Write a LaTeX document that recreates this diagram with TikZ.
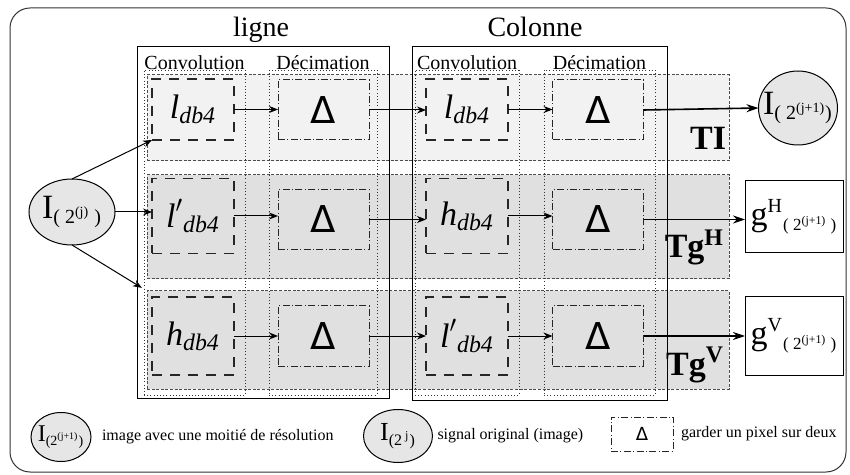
\documentclass[tikz,border=0pt]{standalone}
\usepackage{amsmath}
\usepackage{fontspec}
\setmainfont{Liberation Serif}
\newfontfamily\deltafont{DejaVu Sans}
\usetikzlibrary{arrows.meta, positioning, shapes.geometric}
\definecolor{frameDark}{HTML}{333333}
\definecolor{bandLight}{HTML}{F2F2F2}
\definecolor{bandDark}{HTML}{E0E0E0}
\definecolor{ellFill}{HTML}{E6E6E6}
\newcommand{\idx}[2]{\text{\fontsize{#1}{#1}\selectfont #2}}

\begin{document}
\begin{tikzpicture}[x=0.5pt, y=-0.5pt,
    every node/.style={inner sep=0pt, outer sep=0pt},
    band/.style={draw=black!70, dash pattern=on 1.5pt off 0.8pt, line width=0.5pt, minimum width=291pt},
    grp/.style={draw, line width=0.5pt},
    colbox/.style={draw=black!80, dash pattern=on 0.4pt off 1.2pt, line width=0.4pt, minimum height=162.5pt, label distance=1.5pt},
    subttl/.style={font=\fontsize{10}{10}\selectfont, inner sep=0pt},
    ttl/.style={font=\fontsize{14}{14}\selectfont, anchor=base},
    convbox/.style={draw=black!85, dash pattern=on 5pt off 4pt, line width=0.7pt, minimum width=41pt, font=\fontsize{17}{17}\selectfont},
    decbox/.style={draw=black!85, dash pattern=on 3.5pt off 1.2pt on 0.5pt off 1.2pt, line width=0.5pt, minimum width=45.5pt, minimum height=30pt, font=\deltafont\fontsize{18.5}{18.5}\selectfont},
    ell/.style={ellipse, draw, fill=ellFill, line width=0.5pt, inner xsep=-4pt},
    outbox/.style={draw, line width=0.5pt, minimum width=49pt, font=\fontsize{17}{17}\selectfont},
    bandlbl/.style={font=\bfseries\fontsize{17}{17}\selectfont, anchor=base east},
    legtxt/.style={font=\fontsize{8}{8}\selectfont},
    arr/.style={-{Stealth[length=4.5pt, width=3.5pt]}, line width=0.5pt},
    outarr/.style={-{Stealth[length=6pt, width=4pt]}, line width=0.8pt}]
  \useasboundingbox (0,0) rectangle (850,475);
  \draw[frameDark, line width=0.5pt, rounded corners=10pt] (10,8) rectangle (846,472);

  \foreach \n/\y/\h/\c in {I/118/43/bandLight, H/227/52/bandDark, V/340/49/bandDark}
    \node[band, fill=\c, minimum height=\h pt] (band\n) at (438,\y) {};

  \node[grp, minimum width=126pt, minimum height=175.5pt] (ligne) at (263,222.5) {};
  \node[grp, minimum width=127.5pt, minimum height=176.5pt] (colonne) at (539.5,223.5) {};
  \node[ttl] (ligneTtl) at (261,37) {ligne};
  \node[ttl] (colonneTtl) at (535,37) {Colonne};

  \foreach \n/\x/\w/\t in {lc/194.5/50.5/Convolution, ld/323/54/Décimation, cc/467/52/Convolution, cd/599.5/55.5/Décimation}
    \node[colbox, minimum width=\w pt, label={[subttl]above:\t}] (\n) at (\x,232.5) {};

  \foreach \r/\y/\dy/\h/\p/\q in {1/109.5/110/30.5/{\textit{l}}/{\textit{l}}, 2/216/219.5/37.5/{\textit{l}'{}}/{\textit{h}}, 3/336/336/39/{\textit{h}}/{\textit{l}'{}}}{
    \node[convbox, minimum height=\h pt] (c\r1) at (193,\y) {$\p_{\textit{db4}}$};
    \node[decbox] (d\r1) at (323.5,\dy) {Δ};
    \node[convbox, minimum height=\h pt] (c\r2) at (467,\y) {$\q_{\textit{db4}}$};
    \node[decbox] (d\r2) at (598,\dy) {Δ};
    \draw[arr] (c\r1.east) -- (c\r1.east -| d\r1.west);
    \draw[arr] (d\r1.east) -- (d\r1.east -| c\r2.west);
    \draw[arr] (c\r2.east) -- (c\r2.east -| d\r2.west);
  }

  \node[bandlbl] (lblI) at (726,150) {TI};
  \node[bandlbl] (lblH) at (724,258) {Tg\textsuperscript{H}};
  \node[bandlbl] (lblV) at (724,375) {Tg\textsuperscript{V}};

  \node[ell, minimum width=43pt, minimum height=33pt, font=\fontsize{17}{17}\selectfont] (in) at (72,212) {$\text{I}_{\idx{10}{( 2\textsuperscript{(j)} )}}$};
  \node[ell, minimum width=39.5pt, minimum height=37pt, font=\fontsize{17}{17}\selectfont] (outI) at (798,108) {$\text{I}_{\idx{10}{( 2\textsuperscript{(j+1)})}}$};
  \node[outbox, minimum height=36pt] (gH) at (794,217) {$\text{g}^{\idx{10}{H}}{}_{\idx{8.5}{( 2\textsuperscript{(j+1)} )}}$};
  \node[outbox, minimum height=39pt] (gV) at (794,336) {$\text{g}^{\idx{10}{V}}{}_{\idx{8.5}{( 2\textsuperscript{(j+1)} )}}$};

  \draw[arr] (in.north) -- (c11.south west);
  \draw[arr] (in.east) -- (in.east -| c21.west);
  \draw[arr, shorten >=3pt] (in.south) -- (bandV.north west);
  \draw[outarr] (d12.east) -- (outI.west);
  \draw[outarr] (d22.east) -- (d22.east -| gH.west);
  \draw[outarr] (d32.east) -- (d32.east -| gV.west);

  \node[ell, minimum width=30pt, minimum height=24.5pt, font=\fontsize{12}{12}\selectfont] (legA) at (61,437) {$\text{I}_{\idx{7}{(2\textsuperscript{(j+1)})}}$};
  \node[legtxt, right=5.5pt of legA] (legAtxt) {image avec une moitié de résolution};
  \node[ell, minimum width=34.5pt, minimum height=26.5pt, font=\fontsize{13}{13}\selectfont] (legB) at (398,436) {$\text{I}_{\idx{8}{(2\textsuperscript{ j})}}$};
  \node[legtxt, right=2.5pt of legB] (legBtxt) {signal original (image)};
  \node[decbox, minimum width=31pt, minimum height=17pt, font=\deltafont\fontsize{9}{9}\selectfont] (legC) at (642,434) {Δ};
  \node[legtxt, right=4pt of legC] (legCtxt) {garder un pixel sur deux};
\end{tikzpicture}
\end{document}
